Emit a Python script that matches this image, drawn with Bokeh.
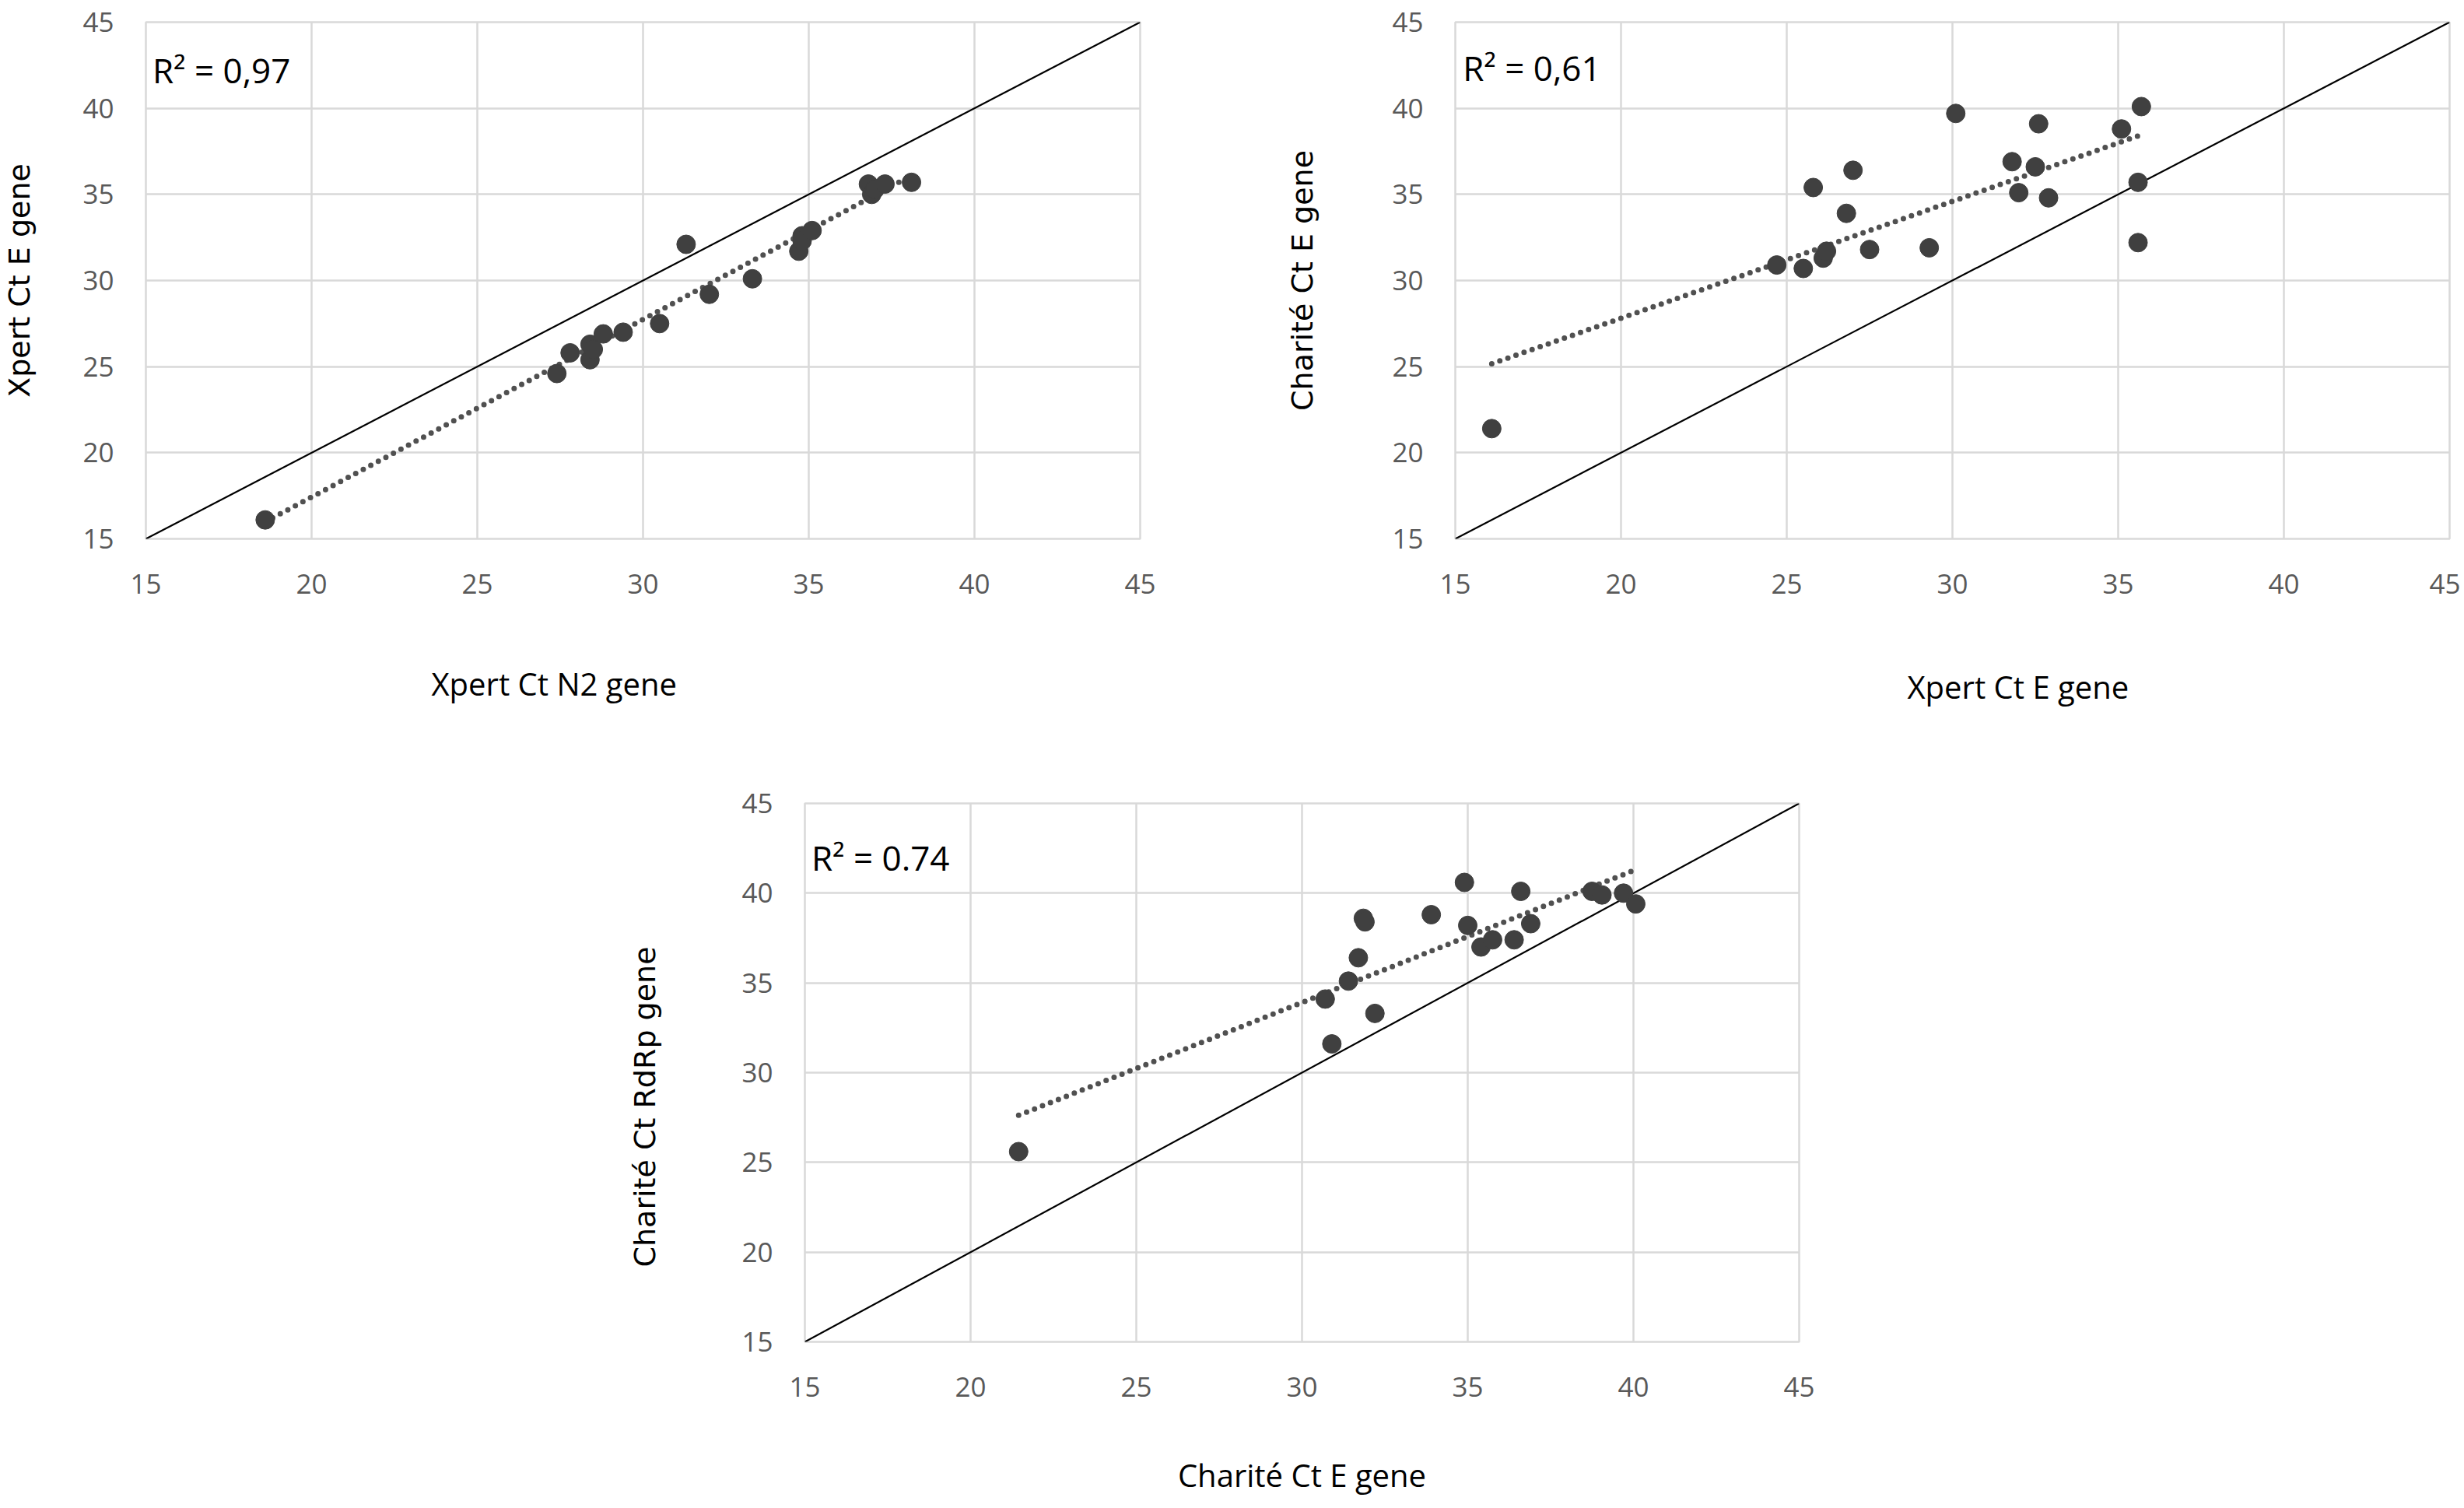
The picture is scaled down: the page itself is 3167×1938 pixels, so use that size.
import numpy as np
from bokeh.plotting import figure
from bokeh.models import Label, Spacer, FixedTicker, Range1d, Title
from bokeh.layouts import row, column
from bokeh.embed import file_html
from bokeh.resources import INLINE

# ---------------- data ----------------
tick_values = [15, 20, 25, 30, 35, 40, 45]
tick_labels = ["15", "20", "25", "30", "35", "40", "45"]

# Panel 1: Xpert Ct N2 gene (x) vs Xpert Ct E gene (y)
p1_x = [18.6, 27.4, 27.8, 28.4, 28.4, 28.5, 28.8, 29.4, 30.5, 31.3, 32.0,
        33.3, 34.7, 34.8, 34.8, 35.1, 36.8, 36.9, 37.0, 37.3, 38.1]
p1_y = [16.1, 24.6, 25.8, 26.3, 25.4, 26.0, 26.9, 27.0, 27.5, 32.1, 29.2,
        30.1, 31.7, 32.6, 32.3, 32.9, 35.6, 35.0, 35.3, 35.6, 35.7]
p1_r2 = "R\u00b2 = 0,97"
p1_xtitle = "Xpert Ct N2 gene"
p1_ytitle = "Xpert Ct E gene"

# Panel 2: Xpert Ct E gene (x) vs Charité Ct E gene (y)
p2_x = [16.1, 24.7, 25.5, 25.8, 26.1, 26.2, 26.8, 27.0, 27.5, 29.3,
        30.1, 31.8, 32.0, 32.5, 32.6, 32.9, 35.1, 35.6, 35.6, 35.7]
p2_y = [21.4, 30.9, 30.7, 35.4, 31.3, 31.7, 33.9, 36.4, 31.8, 31.9,
        39.7, 36.9, 35.1, 36.6, 39.1, 34.8, 38.8, 35.7, 32.2, 40.1]
p2_r2 = "R\u00b2 = 0,61"
p2_xtitle = "Xpert Ct E gene"
p2_ytitle = "Charité Ct E gene"

# Panel 3: Charité Ct E gene (x) vs Charité Ct RdRp gene (y)
p3_x = [21.45, 30.7, 30.9, 31.4, 31.7, 31.85, 31.9, 32.2, 33.9, 34.9, 35.0,
        35.4, 35.75, 36.4, 36.6, 36.9, 38.75, 39.05, 39.7, 40.07]
p3_y = [25.6, 34.1, 31.6, 35.1, 36.4, 38.6, 38.4, 33.3, 38.8, 40.6, 38.2,
        37.0, 37.4, 37.4, 40.1, 38.3, 40.1, 39.9, 40.0, 39.4]
p3_r2 = "R\u00b2 = 0.74"
p3_xtitle = "Charité Ct E gene"
p3_ytitle = "Charité Ct RdRp gene"

# ---------------- styling ----------------
GRID = "#d9d9d9"
MARK = "#404040"
TICK_COLOR = "#595959"
TICK_FONT = "Open Sans"
TITLE_FONT = "Open Sans"
YTITLE_FONT = "DejaVu Sans"


def make_panel(xs, ys, r2, frame_h, left, right, top, bottom, r2_pos):
    p = figure(frame_width=1278, frame_height=frame_h,
               x_range=Range1d(15, 45), y_range=Range1d(15, 45),
               output_backend="svg", toolbar_location=None,
               min_border_left=left, min_border_right=right,
               min_border_top=top, min_border_bottom=bottom,
               background_fill_color="white", border_fill_color="white")
    p.outline_line_color = GRID
    p.outline_line_width = 2.5
    for ax in (p.xaxis[0], p.yaxis[0]):
        ax.ticker = FixedTicker(ticks=tick_values)
        ax.major_label_overrides = {v: l for v, l in zip(tick_values, tick_labels)}
        ax.axis_line_color = None
        ax.major_tick_line_color = None
        ax.minor_tick_line_color = None
        ax.major_tick_out = 0
        ax.major_tick_in = 0
        ax.major_label_text_font = TICK_FONT
        ax.major_label_text_font_size = "35px"
        ax.major_label_text_color = TICK_COLOR
    p.xaxis.major_label_standoff = 45
    p.yaxis.major_label_standoff = 41

    p.grid.grid_line_color = GRID
    p.grid.grid_line_width = 2.5
    p.xgrid.ticker = FixedTicker(ticks=tick_values)
    p.ygrid.ticker = FixedTicker(ticks=tick_values)

    # identity line
    p.line([15, 45], [15, 45], line_color="black", line_width=2.2)

    # linear trend (least squares from the data)
    xa = np.array(xs)
    ya = np.array(ys)
    slope, intercept = np.polyfit(xa, ya, 1)
    lx = [xa.min(), xa.max()]
    ly = [slope * v + intercept for v in lx]
    p.line(lx, ly, line_color="#505050", line_width=7,
           line_dash="0 11", line_cap="round")

    p.scatter(xs, ys, size=24, fill_color=MARK, line_color=MARK)

    p.add_layout(Label(x=r2_pos[0], y=r2_pos[1], text=r2,
                       text_font=TITLE_FONT, text_font_size="44px",
                       text_color="black", text_baseline="alphabetic",
                       text_align="left"))
    return p


def set_y_axis_title(p, text, standoff):
    p.yaxis.axis_label = text
    p.yaxis.axis_label_text_font = YTITLE_FONT
    p.yaxis.axis_label_text_font_size = "38px"
    p.yaxis.axis_label_text_font_style = "normal"
    p.yaxis.axis_label_text_color = "black"
    p.yaxis.axis_label_standoff = standoff


def add_x_title(p, text, offset, standoff):
    p.add_layout(Title(text=text, align="left", offset=offset,
                       standoff=standoff, text_font=TITLE_FONT,
                       text_font_size="40px", text_font_style="normal",
                       text_color="black"), "below")


p1 = make_panel(p1_x, p1_y, p1_r2, 664, 180, 184, 28, 312, (15.2, 42.2))
set_y_axis_title(p1, p1_ytitle, 56)
add_x_title(p1, p1_xtitle, 367, 166)

p2 = make_panel(p2_x, p2_y, p2_r2, 664, 217, 14, 28, 312, (15.23, 42.35))
set_y_axis_title(p2, p2_ytitle, 90)
add_x_title(p2, p2_xtitle, 581, 174)

p3 = make_panel(p3_x, p3_y, p3_r2, 692, 326, 30, 28, 204, (15.2, 41.98))
p3.add_layout(Title(text=p3_ytitle, align="left", offset=96, standoff=200,
                    text_font=YTITLE_FONT, text_font_size="38px",
                    text_font_style="normal", text_color="black"), "left")
p3.xaxis.axis_label = p3_xtitle
p3.xaxis.axis_label_text_font = TITLE_FONT
p3.xaxis.axis_label_text_font_size = "40px"
p3.xaxis.axis_label_text_font_style = "normal"
p3.xaxis.axis_label_text_color = "black"
p3.xaxis.axis_label_standoff = 70

layout = column(row(p1, p2), row(Spacer(width=704, height=10), p3))

open("out.html", "w").write(file_html(layout, INLINE))
